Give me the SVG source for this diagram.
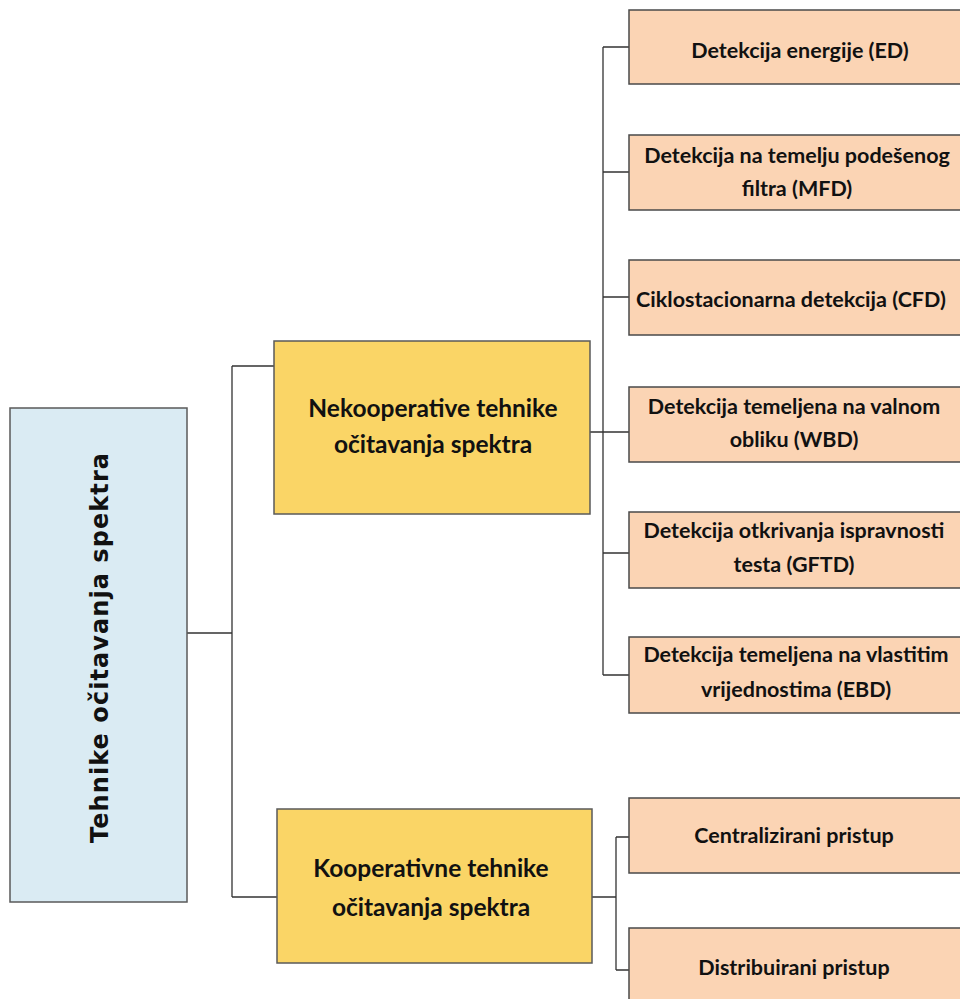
<svg xmlns="http://www.w3.org/2000/svg" width="960" height="999" viewBox="0 0 960 999">
<style>
.root{fill:#daebf3;stroke:#5a5a5a;stroke-width:1.5}
.mid{fill:#fad566;stroke:#5a5a5a;stroke-width:1.5}
.leaf{fill:#fbd4b4;stroke:#4a4a4a;stroke-width:1.5}
.t{font-family:Lato,"Liberation Sans",sans-serif;font-weight:bold;fill:#111;text-anchor:middle}
.tl{font-size:21.5px}
.tm{font-size:24.5px}
.tr{font-family:"DejaVu Sans",sans-serif;font-weight:bold;font-size:24px;fill:#111;text-anchor:middle}
.c{fill:none;stroke:#333;stroke-width:1.3}
</style>
<rect width="960" height="999" fill="#fff"/>
<g id="connectors">
<path class="c" d="M187 633H232M232 366V897M232 366H274M232 897H277"/>
<path class="c" d="M590 432H603M603 47V675M603 47H629M603 172H629M603 297H629M603 432H629M603 553H629M603 675H629"/>
<path class="c" d="M592 897H616M616 837V970M616 837H629M616 970H629"/>
</g>
<g id="root"><rect class="root" x="10" y="408" width="177" height="494"/><text class="tr" transform="translate(108,648) rotate(-90)" textLength="390" lengthAdjust="spacing">Tehnike očitavanja spektra</text></g>
<g id="nekoop"><rect class="mid" x="274" y="341" width="316" height="173"/><text class="t tm" x="433" y="417">Nekooperative tehnike</text><text class="t tm" x="433" y="453">očitavanja spektra</text></g>
<g id="koop"><rect class="mid" x="277" y="809" width="315" height="154"/><text class="t tm" x="431" y="877">Kooperativne tehnike</text><text class="t tm" x="431" y="916">očitavanja spektra</text></g>
<g id="ed"><rect class="leaf" x="629" y="10" width="340" height="74"/><text class="t tl" x="800" y="58">Detekcija energije (ED)</text></g>
<g id="mfd"><rect class="leaf" x="629" y="135" width="340" height="75"/><text class="t tl" x="797" y="163">Detekcija na temelju podešenog</text><text class="t tl" x="797" y="196">filtra (MFD)</text></g>
<g id="cfd"><rect class="leaf" x="629" y="260" width="340" height="75"/><text class="t tl" x="791" y="307">Ciklostacionarna detekcija (CFD)</text></g>
<g id="wbd"><rect class="leaf" x="629" y="387" width="340" height="75"/><text class="t tl" x="794" y="414">Detekcija temeljena na valnom</text><text class="t tl" x="794" y="447">obliku (WBD)</text></g>
<g id="gftd"><rect class="leaf" x="629" y="512" width="340" height="76"/><text class="t tl" x="794" y="538">Detekcija otkrivanja ispravnosti</text><text class="t tl" x="794" y="572">testa (GFTD)</text></g>
<g id="ebd"><rect class="leaf" x="629" y="637" width="340" height="76"/><text class="t tl" x="796" y="662">Detekcija temeljena na vlastitim</text><text class="t tl" x="796" y="697">vrijednostima (EBD)</text></g>
<g id="cent"><rect class="leaf" x="629" y="798" width="340" height="75"/><text class="t tl" x="794" y="843">Centralizirani pristup</text></g>
<g id="dist"><rect class="leaf" x="629" y="928" width="340" height="80"/><text class="t tl" x="794" y="975">Distribuirani pristup</text></g>
</svg>
